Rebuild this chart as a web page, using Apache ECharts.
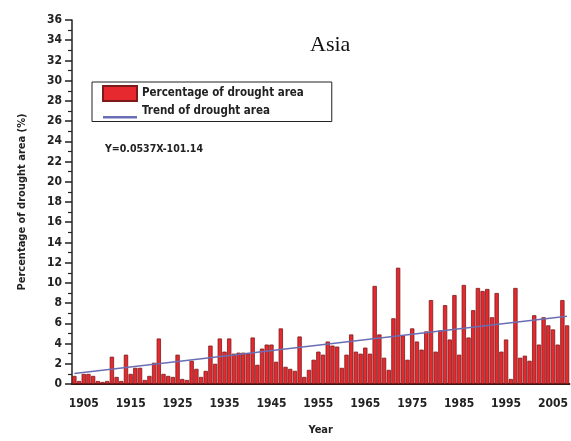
<!DOCTYPE html>
<html>
<head>
<meta charset="utf-8">
<script src="https://cdn.jsdelivr.net/npm/echarts@6/dist/echarts.min.js"></script>
<style>
html,body{margin:0;padding:0;background:#fff;}
#chart{width:571px;height:441px;}
</style>
</head>
<body>
<div id="chart"></div>
<script>
// Data
var firstYear = 1903;
var droughtPct = [
  0.8,0.3,1.0,1.0,0.8,0.3,0.2,0.3,                 // 1903-1910
  2.7,0.7,0.3,2.9,1.0,1.6,1.6,0.4,0.8,2.1,         // 1911-1920
  4.5,1.0,0.8,0.7,2.9,0.5,0.4,2.3,1.5,0.7,         // 1921-1930
  1.3,3.8,2.0,4.5,3.2,4.5,3.0,3.1,3.1,3.0,         // 1931-1940
  4.6,1.9,3.5,3.9,3.9,2.2,5.5,1.7,1.5,1.3,         // 1941-1950
  4.7,0.7,1.4,2.4,3.2,2.9,4.2,3.8,3.7,1.6,         // 1951-1960
  2.9,4.9,3.2,3.0,3.6,3.0,9.7,4.9,2.6,1.4,         // 1961-1970
  6.5,11.5,4.8,2.4,5.5,4.2,3.4,5.2,8.3,3.2,        // 1971-1980
  5.3,7.8,4.4,8.8,2.9,9.8,4.6,7.3,9.5,9.2,         // 1981-1990
  9.4,6.6,9.0,3.2,4.4,0.5,9.5,2.6,2.8,2.3,         // 1991-2000
  6.8,3.9,6.6,5.8,5.4,3.9,8.3,5.8                  // 2001-2008
];
var trendEnds = [1.05, 6.69]; // trend line value at first and last year
var years = [];
for (var i = 0; i < droughtPct.length; i++) years.push(String(firstYear + i));
var trendData = years.map(function (y, i) {
  if (i === 0) return trendEnds[0];
  if (i === years.length - 1) return trendEnds[1];
  return null;
});
var titleText = 'Asia';
var equationText = 'Y=0.0537X-101.14';
var seriesNames = ['Percentage of drought area', 'Trend of drought area'];

var FONT = '"DejaVu Sans Condensed","Liberation Sans Narrow",sans-serif';
var chart = echarts.init(document.getElementById('chart'), null, {renderer: 'canvas'});
chart.setOption({
  animation: false,
  backgroundColor: '#fff',
  title: {
    text: titleText, left: 305, top: 29,
    textStyle: {fontFamily: '"Liberation Serif","Times New Roman",serif', fontSize: 22, fontWeight: 'normal', color: '#111'}
  },
  legend: {
    orient: 'vertical', left: 92, top: 82,
    borderColor: '#222', borderWidth: 1, padding: [3, 28, 3, 10],
    itemWidth: 34, itemHeight: 15, itemGap: 2,
    textStyle: {fontFamily: FONT, fontSize: 11.5, fontWeight: 'bold', color: '#222'},
    data: [
      {name: seriesNames[0], icon: 'rect'},
      {name: seriesNames[1], icon: 'path://M0,0 L0.01,0 L0.01,0.01 Z M0,12 L34,12 L34,14.5 L0,14.5 Z'}
    ]
  },
  graphic: [{
    type: 'text', left: 105, top: 144,
    style: {text: equationText, font: 'bold 10.5px ' + FONT, fill: '#222'}
  }],
  grid: {left: 72, right: 0, top: 20, bottom: 51, containLabel: false},
  xAxis: [{
    type: 'category', data: years, position: 'bottom',
    name: 'Year', nameLocation: 'middle', nameGap: 41,
    nameTextStyle: {fontFamily: FONT, fontSize: 11, fontWeight: 'bold', color: '#222'},
    axisLine: {lineStyle: {color: '#3a1515', width: 2}},
    axisTick: {alignWithLabel: true, length: 7, lineStyle: {color: '#222', width: 1.5},
      interval: function (idx, val) { return (+val) % 10 === 5; }},
    axisLabel: {fontFamily: FONT, fontSize: 12, fontWeight: 'bold', color: '#222', margin: 14,
      interval: function (idx, val) { return (+val) % 10 === 5; }},
    splitLine: {show: false}
  }, {
    type: 'category', data: years, position: 'bottom', gridIndex: 0,
    axisLine: {show: false},
    axisTick: {alignWithLabel: true, length: 4, lineStyle: {color: '#222', width: 1.5},
      interval: function (idx, val) { return (+val) % 10 === 0; }},
    axisLabel: {show: false},
    splitLine: {show: false}
  }],
  yAxis: {
    type: 'value', min: 0, max: 36, interval: 2,
    name: 'Percentage of drought area (%)', nameLocation: 'middle', nameGap: 44, nameRotate: 90,
    nameTextStyle: {fontFamily: FONT, fontSize: 11, fontWeight: 'bold', color: '#222'},
    axisLine: {show: true, lineStyle: {color: '#222', width: 1.5}},
    axisTick: {show: true, length: 7, lineStyle: {color: '#222', width: 1.5}},
    minorTick: {show: true, splitNumber: 2, length: 4, lineStyle: {color: '#222', width: 1.2}},
    axisLabel: {fontFamily: FONT, fontSize: 12, fontWeight: 'bold', color: '#222', margin: 10},
    splitLine: {show: false}
  },
  series: [{
    name: seriesNames[0], type: 'bar', data: droughtPct, xAxisIndex: 0,
    barCategoryGap: '8%',
    itemStyle: {color: '#e5292f', borderColor: '#7d1a1a', borderWidth: 0.8}
  }, {
    name: seriesNames[1], type: 'line', data: trendData, xAxisIndex: 0,
    connectNulls: true, showSymbol: false, symbol: 'none', z: 5,
    lineStyle: {color: '#6a6fb5', width: 1.5},
    itemStyle: {color: '#6a6fb5'}
  }]
});
</script>
</body>
</html>
